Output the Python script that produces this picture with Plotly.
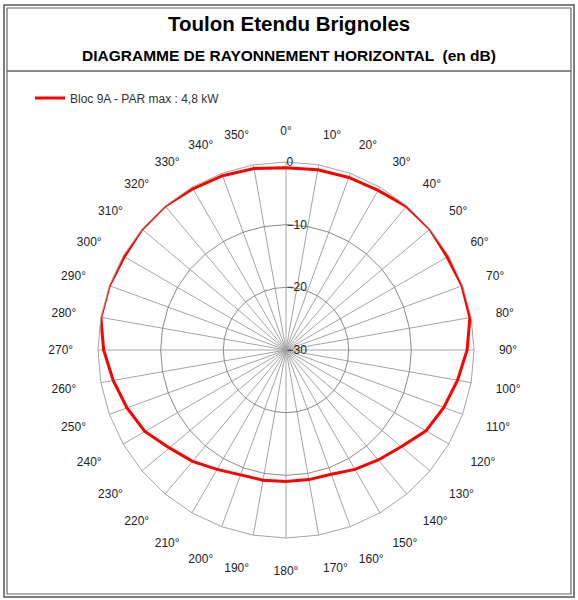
import plotly.graph_objects as go

W, H = 578, 600

angles = [f"{a}°" for a in range(0, 360, 10)]
gain_db = [-0.9, -0.8, -0.7, -0.6, -0.1, 0.0, -0.3, -0.1, -0.2,
           -1.1, -2.2, -3.2, -4.2, -6.0, -7.1, -8.0, -8.9, -9.0,
           -9.0, -8.9, -8.8, -8.0, -6.8, -5.7, -4.0, -3.0, -2.0,
           -0.9, 0.0, 0.0, -0.2, 0.0, 0.0, -0.3, -0.4, -0.6]
radial_ticks = [-30, -20, -10, 0]

series_name = "Bloc 9A - PAR max : 4,8 kW"
title = "Toulon Etendu Brignoles"
subtitle = "DIAGRAMME DE RAYONNEMENT HORIZONTAL \u00a0(en dB)"

FONT = "Liberation Sans, Arial, sans-serif"


def px_x(x):
    return x / W


def px_y(y):
    return 1 - y / H


fig = go.Figure()
fig.add_trace(go.Scatterpolar(
    r=gain_db + gain_db[:1],
    theta=angles + angles[:1],
    mode="lines",
    line=dict(color="#ff0000", width=3),
    name=series_name,
))

# polar area: centre at (286, 350) px, radius ~188 px
cx, cy, rad = 286, 350, 188
fig.update_layout(
    width=W, height=H,
    margin=dict(l=0, r=0, t=0, b=0),
    paper_bgcolor="white",
    font=dict(family=FONT, color="#222222"),
    showlegend=True,
    legend=dict(x=px_x(30), y=px_y(98), xanchor="left", yanchor="middle",
                font=dict(size=12, color="#333333"), bgcolor="rgba(0,0,0,0)"),
    polar=dict(
        domain=dict(x=[px_x(cx - rad), px_x(cx + rad)],
                    y=[px_y(cy + rad), px_y(cy - rad)]),
        bgcolor="white",
        gridshape="linear",
        angularaxis=dict(
            type="category",
            direction="clockwise",
            rotation=90,
            showgrid=True, gridcolor="#a4a4a4", gridwidth=1,
            showline=True, linecolor="#a4a4a4", linewidth=1,
            ticks="outside", ticklen=22, tickcolor="rgba(0,0,0,0)",
            tickfont=dict(size=12, color="#222222"),
        ),
        radialaxis=dict(
            range=[-30, 0],
            tickvals=radial_ticks,
            angle=90,
            tickangle=90,
            side="clockwise",
            showline=False,
            ticks="",
            showgrid=True, gridcolor="#8a8a8a", gridwidth=1,
            tickfont=dict(size=12, color="#222222"),
        ),
    ),
    annotations=[
        dict(text=f"<b>{title}</b>", x=px_x(289), y=px_y(23), xref="paper", yref="paper",
             xanchor="center", yanchor="middle",
             showarrow=False, font=dict(size=20.5, color="black")),
        dict(text=f"<b>{subtitle}</b>", x=px_x(289), y=px_y(55), xref="paper", yref="paper",
             xanchor="center", yanchor="middle",
             showarrow=False, font=dict(size=15.5, color="black")),
    ],
    shapes=[
        dict(type="rect", xref="paper", yref="paper",
             x0=px_x(4), x1=px_x(574), y0=px_y(597), y1=px_y(5),
             line=dict(color="#555555", width=1.5)),
        dict(type="rect", xref="paper", yref="paper",
             x0=px_x(7), x1=px_x(571), y0=px_y(594), y1=px_y(8),
             line=dict(color="#666666", width=1.2)),
        dict(type="line", xref="paper", yref="paper",
             x0=px_x(7), x1=px_x(571), y0=px_y(71), y1=px_y(71),
             line=dict(color="#666666", width=1.5)),
    ],
)

# page has a default body margin; remove it so the figure sits at (0, 0)
fig.write_html("out.html",
               config={"displayModeBar": False},
               post_script="document.body.style.margin='0';document.body.style.overflow='hidden';")
